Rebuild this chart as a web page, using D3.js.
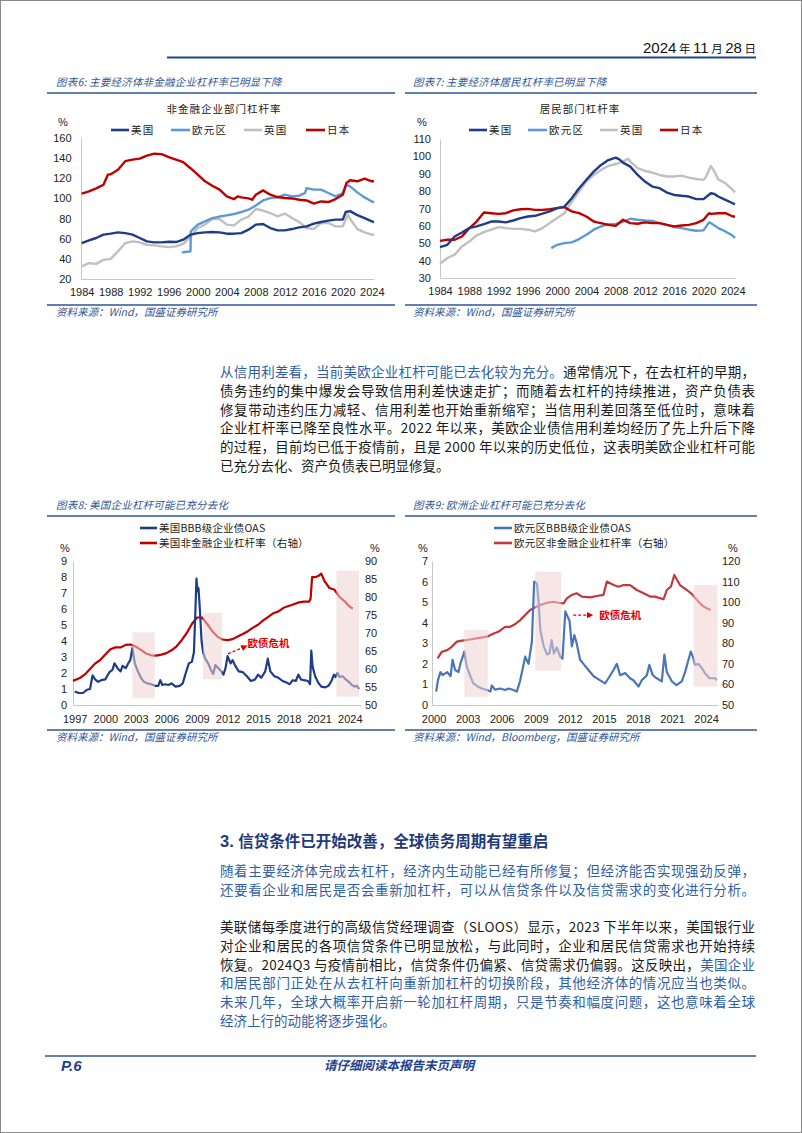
<!DOCTYPE html>
<html><head><meta charset="utf-8">
<script src="https://cdn.jsdelivr.net/npm/d3@7"></script>
<style>body{margin:0;background:#fff}svg{display:block}</style>
</head><body>
<svg id="page" width="802" height="1133"></svg>
<script>
// ---------------- DATA ----------------
// Chart 6: non-financial corporate leverage (%)
const c6US = [[1984,55.7],[1985,58.3],[1986,60.7],[1987,64],[1988,65],[1989,66.3],[1990,65.6],[1991,64],[1992,60.7],[1993,57.4],[1994,56.4],[1995,56.4],[1996,57],[1997,56.7],[1998,59],[1999,64],[2000,65.6],[2001,66.3],[2002,66.6],[2003,66.3],[2004,65],[2005,65],[2006,65.6],[2007,69],[2008,74],[2009,74.6],[2010,70.6],[2011,68.3],[2012,68.3],[2013,69.6],[2014,71.3],[2015,72.3],[2016,75],[2017,76.6],[2018,78],[2019,79],[2020,79],[2020.4,86.5],[2021,87.4],[2022,83.4],[2023,80.5],[2024,77.2],[2024.3,76.6]];
const c6EA = [[1997.8,46.4],[1998.5,47],[1999,47.4],[1999.05,67.3],[2000,74],[2001,77.2],[2002,80.5],[2003,82],[2004,83.2],[2005,84.5],[2006,86.5],[2007,88.8],[2008,93],[2009,98],[2010,100.4],[2011,101],[2012,103.7],[2013,102],[2014,102.7],[2014.8,105.4],[2015,110.3],[2016,108.7],[2017,108.7],[2018,105.4],[2019,102],[2020,105.4],[2020.5,113.6],[2021,112],[2022,106],[2023,101],[2024,97],[2024.3,96]];
const c6UK = [[1984,32.5],[1985,35.8],[1986,35],[1987,39],[1988,40],[1989,47.4],[1990,55.7],[1991,57.4],[1992,56.4],[1993,54],[1994,53.4],[1995,52.4],[1996,51.7],[1997,52.4],[1998,55],[1999,61.7],[2000,70.6],[2001,74],[2002,79.5],[2003,79.5],[2004,74],[2005,73.2],[2006,79],[2007,82],[2008,89.5],[2009,88],[2010,85.5],[2011,82.2],[2012,85],[2013,80.5],[2014,76.5],[2015,70.6],[2016,69.6],[2017,75.6],[2018,75.6],[2019,72.3],[2020,72.3],[2020.7,84],[2021,79.5],[2022,69.6],[2023,66.3],[2024,64],[2024.3,64]];
const c6JP = [[1984,104.7],[1985,107],[1986,110],[1987,113.6],[1987.6,123.6],[1988,124],[1989,128.5],[1990,137],[1991,138.5],[1992,139.5],[1993,142.5],[1994,144.4],[1995,144],[1996,141],[1997,138.5],[1998,136],[1999,130],[2000,123.6],[2001,117],[2002,112.6],[2003,108.7],[2004,102],[2005,99.4],[2005.5,102],[2006,101],[2007,100],[2007.5,98.7],[2008,103.7],[2009,108],[2010,103.7],[2011,101.4],[2012,100.4],[2013,100],[2014,98.7],[2015,98],[2016,94.8],[2017,97],[2018,96.4],[2019,99.4],[2020,103.7],[2020.5,115.3],[2021,118],[2022,117],[2023,119.6],[2024,117],[2024.3,117]];
const c6YTicks = [20,40,60,80,100,120,140,160];
const c6XTicks = [1984,1988,1992,1996,2000,2004,2008,2012,2016,2020,2024];

// Chart 7: household leverage (%)
const c7US = [[1984,47.8],[1985,49.1],[1986,53.9],[1987,56.2],[1988,58.7],[1989,59.7],[1990,61],[1991,62.5],[1992,62.5],[1993,62],[1994,63.1],[1995,64.5],[1996,65.4],[1997,65.8],[1998,67],[1999,68.3],[2000,70.2],[2001,71.1],[2002,75.9],[2003,81.7],[2004,86.5],[2005,91.2],[2006,95.1],[2007,97.9],[2008,99.3],[2008.5,98.3],[2009,96.4],[2010,94.1],[2011,89.3],[2012,85.5],[2013,82.6],[2014,81.7],[2015,79.2],[2016,77.8],[2017,77.3],[2018,76.9],[2019,75.4],[2020,75.4],[2021,78.8],[2021.5,78.4],[2022,76.9],[2023,75],[2024,73],[2024.3,72.5]];
const c7EA = [[1999.2,47.2],[2000,49.1],[2001,50.1],[2002,50.5],[2003,52.4],[2004,54.9],[2005,57.8],[2006,59.7],[2007,61],[2008,61],[2009,62.5],[2010,64.1],[2011,63.5],[2012,63.1],[2013,62.9],[2014,61.6],[2015,60.6],[2016,59.3],[2017,58.7],[2018,57.8],[2019,57.2],[2020,57.4],[2020.75,62],[2021,61.6],[2022,58.7],[2023,56.8],[2024,54.3],[2024.3,53]];
const c7UK = [[1984,38.2],[1985,41.5],[1986,43.4],[1987,48.2],[1988,51],[1989,54.5],[1990,56.4],[1991,57.8],[1992,59.3],[1993,58.7],[1994,58.3],[1995,58.3],[1996,57.8],[1997,56.8],[1998,58.7],[1999,61.6],[2000,64.5],[2001,67.3],[2002,74],[2003,79.8],[2004,85.5],[2005,89.3],[2006,92.2],[2007,94.5],[2008,95.6],[2009,97],[2009.7,98.7],[2010,97],[2011,93.2],[2012,91.6],[2013,90.7],[2014,89.3],[2015,88.4],[2016,88.4],[2017,88.9],[2018,87.8],[2019,87],[2020,86.5],[2020.3,88],[2021,94.5],[2021.5,91.2],[2022,86.8],[2023,84.5],[2024,80.7],[2024.3,79.2]];
const c7JP = [[1984,51.4],[1985,52],[1986,52],[1987,53.9],[1988,58.7],[1989,62.5],[1990,67.7],[1991,67.3],[1992,66.9],[1993,67.3],[1994,68.9],[1995,69.6],[1996,69.8],[1997,69.2],[1998,69.2],[1999,69.6],[2000,70.2],[2001,70.8],[2002,68.3],[2003,67.3],[2004,65.4],[2005,62.5],[2005.5,62],[2006,61.6],[2007,60.6],[2008,60],[2009,63.5],[2010,61.6],[2011,61.2],[2012,62],[2013,61.6],[2014,61.6],[2015,60.6],[2016,59.7],[2017,60.2],[2018,60.6],[2019,61.6],[2020,63.5],[2020.75,67.3],[2021,66.9],[2022,67.3],[2023,67.3],[2024,65.4],[2024.3,65.4]];
const c7YTicks = [30,40,50,60,70,80,90,100,110];
const c7XTicks = [1984,1988,1992,1996,2000,2004,2008,2012,2016,2020,2024];

// Chart 8: US BBB OAS (left) & US non-fin corporate leverage (right)
const c8OAS = [[1997.0,0.85],[1997.4,0.75],[1997.8,0.75],[1998.2,0.95],[1998.5,1.0],[1998.75,1.85],[1999.0,1.6],[1999.3,1.45],[1999.6,1.55],[2000.0,1.6],[2000.4,2.05],[2000.7,2.2],[2000.9,2.6],[2001.2,2.3],[2001.5,2.1],[2001.7,2.45],[2002.0,2.3],[2002.25,2.6],[2002.45,2.8],[2002.66,3.55],[2002.9,2.6],[2003.2,2.1],[2003.5,1.7],[2003.8,1.45],[2004.1,1.35],[2004.5,1.3],[2004.9,1.2],[2005.2,1.2],[2005.4,1.55],[2005.6,1.25],[2005.9,1.3],[2006.2,1.25],[2006.5,1.35],[2006.9,1.15],[2007.3,1.2],[2007.6,1.35],[2007.9,2.0],[2008.2,2.6],[2008.5,2.7],[2008.7,3.3],[2008.85,6.0],[2008.95,7.9],[2009.05,7.1],[2009.15,7.3],[2009.3,5.8],[2009.45,4.0],[2009.6,3.3],[2009.8,2.9],[2010.1,2.6],[2010.4,2.15],[2010.6,1.95],[2010.8,2.5],[2011.1,2.3],[2011.4,2.1],[2011.6,1.9],[2011.8,2.3],[2012.0,3.05],[2012.3,2.6],[2012.5,2.8],[2012.8,2.4],[2013.1,2.1],[2013.5,2.05],[2013.9,1.8],[2014.3,1.5],[2014.7,1.6],[2015.0,1.9],[2015.3,1.7],[2015.7,2.1],[2015.95,2.9],[2016.2,2.1],[2016.6,1.8],[2017.0,1.7],[2017.4,1.5],[2017.8,1.4],[2018.1,1.3],[2018.4,1.55],[2018.7,1.5],[2018.95,1.9],[2019.2,1.6],[2019.5,1.55],[2019.9,1.5],[2020.1,1.3],[2020.22,3.4],[2020.35,2.4],[2020.6,1.8],[2020.9,1.4],[2021.2,1.15],[2021.6,1.1],[2021.9,1.2],[2022.2,1.5],[2022.45,1.9],[2022.6,1.75],[2022.8,2.0],[2023.0,1.75],[2023.3,1.8],[2023.6,1.6],[2023.9,1.45],[2024.2,1.25],[2024.5,1.15],[2024.7,1.2],[2024.9,1.0]];
const c8Lev = [[1996.83,56.7],[1997.5,57.5],[1998,58.5],[1998.5,60],[1999,61.5],[1999.5,62.5],[2000,64],[2000.5,65.5],[2001,66],[2001.5,66],[2002,66.7],[2002.5,66.8],[2003,66.2],[2003.5,65.3],[2004,64.3],[2004.5,63.8],[2005,63.7],[2005.5,64],[2006,64.4],[2006.5,65.2],[2007,66.3],[2007.5,68],[2008,70],[2008.5,72.5],[2009,74.3],[2009.5,74.3],[2010,72.5],[2010.5,70.5],[2011,69],[2011.5,68.2],[2012,68],[2012.5,68.3],[2013,69],[2013.5,69.7],[2014,70.5],[2014.5,71.5],[2015,72.3],[2015.5,73.5],[2016,74.5],[2016.5,75.5],[2017,76],[2017.5,77],[2018,77.5],[2018.5,78],[2019,78.5],[2019.5,78.7],[2020,78.7],[2020.15,79.5],[2020.3,85.5],[2020.6,85.5],[2021,86],[2021.2,86.5],[2021.5,84.5],[2022,82.5],[2022.5,82],[2023,80],[2023.5,78.8],[2024,77.3],[2024.3,76.8]];
const c8Shade = [[2002.66,2004.85,0.42,4.54],[2009.6,2011.46,1.6,5.77],[2022.69,2024.9,0.52,8.4]];
const c8YTicks = [0,1,2,3,4,5,6,7,8,9];
const c8Y2Ticks = [50,55,60,65,70,75,80,85,90];
const c8XTicks = [1997,2000,2003,2006,2009,2012,2015,2018,2021,2024];

// Chart 9: Euro area BBB OAS (left) & EA non-fin corporate leverage (right)
const c9OAS = [[2000.23,0.65],[2000.38,1.2],[2000.6,1.6],[2000.8,1.45],[2001.2,1.6],[2001.5,1.4],[2001.67,2.2],[2001.9,1.7],[2002.2,1.6],[2002.35,2.0],[2002.6,2.4],[2002.7,2.6],[2002.93,1.85],[2003.2,1.45],[2003.5,1.05],[2003.87,0.9],[2004.25,0.8],[2004.7,0.73],[2005.0,0.65],[2005.13,0.95],[2005.4,0.75],[2005.87,0.8],[2006.3,0.73],[2006.6,0.8],[2007.04,0.73],[2007.33,0.65],[2007.63,1.2],[2008.07,2.35],[2008.36,2.0],[2008.66,3.1],[2008.86,6.0],[2009.1,5.9],[2009.24,5.1],[2009.4,3.65],[2009.7,2.85],[2010.0,2.45],[2010.2,2.5],[2010.4,3.15],[2010.6,2.5],[2010.85,2.8],[2011.15,2.35],[2011.35,2.25],[2011.6,4.55],[2011.8,4.3],[2011.97,4.1],[2012.18,2.85],[2012.4,3.4],[2012.6,3.0],[2012.9,2.2],[2013.2,2.0],[2013.64,1.7],[2014.1,1.4],[2014.67,1.2],[2015.1,1.05],[2015.4,1.3],[2015.85,1.7],[2016.14,2.0],[2016.43,1.45],[2016.87,1.55],[2017.3,1.3],[2017.6,1.2],[2018.05,0.9],[2018.34,1.2],[2018.78,1.45],[2019.0,1.95],[2019.3,1.45],[2019.66,1.3],[2020.1,1.15],[2020.33,2.45],[2020.54,1.6],[2020.98,1.15],[2021.4,0.97],[2021.86,1.15],[2022.15,1.6],[2022.45,2.2],[2022.65,2.6],[2022.83,2.35],[2023.03,1.95],[2023.33,2.0],[2023.62,1.8],[2023.9,1.55],[2024.3,1.3],[2024.8,1.3],[2024.94,1.2]];
const c9Lev = [[2000.35,72.7],[2000.73,75.9],[2001.2,76.7],[2001.6,78.3],[2002.05,80.8],[2002.5,81.3],[2002.93,81.6],[2003.8,82.4],[2004.7,83.2],[2005.3,84.8],[2005.7,85.6],[2006.3,88],[2006.75,88],[2007.2,89.4],[2007.63,91.3],[2008.07,93.7],[2008.5,96.2],[2008.95,97.5],[2009.4,98.6],[2010.0,99.7],[2010.56,100.2],[2011.0,99.7],[2011.45,99.4],[2011.74,101.8],[2012.18,103.5],[2012.6,104.3],[2013.06,102.7],[2013.8,102.3],[2014.38,103],[2014.96,103.5],[2015.26,110],[2015.85,108.3],[2016.3,107.5],[2016.73,108.3],[2017.3,108.3],[2017.9,105.9],[2018.5,104.3],[2019.07,102.7],[2019.5,102.7],[2020.25,101.4],[2020.54,105.9],[2020.9,107.5],[2021.2,113.2],[2021.7,108.3],[2022.3,105.9],[2022.74,104],[2023.2,101],[2023.6,98.6],[2024.06,97],[2024.4,96.2]];
const c9Shade = [[2002.7,2004.78,0.4,3.65],[2008.95,2011.24,1.67,6.48],[2022.9,2025.0,0.89,5.83]];
const c9YTicks = [0,1,2,3,4,5,6,7];
const c9Y2Ticks = [50,60,70,80,90,100,110,120];
const c9XTicks = [2000,2003,2006,2009,2012,2015,2018,2021,2024];

const legend67 = ["美国","欧元区","英国","日本"];

// ---------------- DRAW ----------------
const CJK = "'Noto Sans CJK SC','Noto Sans CJK JP',sans-serif";
const LAT = "'Liberation Sans',Arial,sans-serif";
const TBLUE = "#2f5597";
const COL = {us:"#1f3c88", ea:"#5b9bd5", uk:"#c0c0c0", jp:"#c00000"};
const svg = d3.select("#page");

svg.append("rect").attr("x",0.5).attr("y",0.5).attr("width",801).attr("height",1132)
  .attr("fill","#fff").attr("stroke","#8a8a8a").attr("stroke-width",1);

// header
const hd = svg.append("text").attr("x",756).attr("y",53).attr("text-anchor","end").attr("fill","#111");
[["2024",1],[" 年 ",0],["11",1],[" 月 ",0],["28",1],[" 日",0]].forEach(([t,n])=>{
  hd.append("tspan").text(t)
    .attr("font-family", n? "'Liberation Sans Narrow','Liberation Sans',sans-serif" : CJK)
    .attr("font-size", n? 15 : 11.5);
});
svg.append("line").attr("x1",167).attr("x2",756).attr("y1",57.5).attr("y2",57.5)
  .attr("stroke","#23468a").attr("stroke-width",2);

function figTitle(x, y, x1, x2, text){
  svg.append("text").attr("x",x).attr("y",y).text(text)
    .attr("font-family",CJK).attr("font-size",10.5).attr("font-style","italic")
    .attr("letter-spacing",0.2).attr("fill",TBLUE);
  svg.append("line").attr("x1",x1).attr("x2",x2).attr("y1",y+7).attr("y2",y+7)
    .attr("stroke",TBLUE).attr("stroke-width",1.6);
}
function figSource(x, y, x1, x2, text){
  svg.append("line").attr("x1",x1).attr("x2",x2).attr("y1",y-11).attr("y2",y-11)
    .attr("stroke",TBLUE).attr("stroke-width",1.6);
  svg.append("text").attr("x",x).attr("y",y).text(text)
    .attr("font-family",CJK).attr("font-size",10.5).attr("font-style","italic")
    .attr("fill",TBLUE);
}

function drawChart(o){
  const g = svg.append("g");
  const x = d3.scaleLinear().domain(o.xDomain).range([o.left,o.right]);
  const y = d3.scaleLinear().domain(o.yDomain).range([o.bottom,o.top]);
  const y2 = o.y2Domain ? d3.scaleLinear().domain(o.y2Domain).range([o.bottom,o.top]) : null;
  const styleAx = sel => {
    sel.selectAll("text").attr("font-family",LAT).attr("font-size",o.fs||11).attr("fill","#222");
    sel.select(".domain").attr("stroke","#c8c8c8").attr("stroke-width",1);
    sel.selectAll(".tick line").remove();
  };
  g.append("g").attr("transform",`translate(${o.left},0)`)
    .call(d3.axisLeft(y).tickValues(o.yTicks).tickSize(0).tickSizeOuter(0).tickPadding(o.yPad).tickFormat(d3.format("d")))
    .call(styleAx);
  g.append("g").attr("transform",`translate(0,${o.bottom})`)
    .call(d3.axisBottom(x).tickValues(o.xTicks).tickSize(0).tickSizeOuter(0).tickPadding(o.xPad).tickFormat(d3.format("d")))
    .call(styleAx);
  if (y2){
    const a = g.append("g").attr("transform",`translate(${o.right},0)`)
      .call(d3.axisRight(y2).tickValues(o.y2Ticks).tickSize(0).tickSizeOuter(0).tickPadding(o.y2Pad).tickFormat(d3.format("d")))
      .call(styleAx);
    a.select(".domain").attr("stroke","none");
  }
  o.series.forEach(s=>{
    const sc = s.right ? y2 : y;
    g.append("path").datum(s.data)
      .attr("d", d3.line().x(d=>x(d[0])).y(d=>sc(d[1])))
      .attr("fill","none").attr("stroke",s.color).attr("stroke-width",s.w||2.4)
      .attr("stroke-linejoin","round").attr("stroke-linecap","butt");
  });
  (o.shade||[]).forEach(r=>{
    g.append("rect").attr("x",x(r[0])).attr("width",x(r[1])-x(r[0]))
      .attr("y",y(r[3])).attr("height",y(r[2])-y(r[3]))
      .attr("fill","#efd2d2").attr("opacity",0.55);
  });
  return {x,y,y2,g};
}

function lineLegend(items, y, ls){
  items.forEach(it=>{
    svg.append("line").attr("x1",it.x1).attr("x2",it.x2).attr("y1",y).attr("y2",y)
      .attr("stroke",it.color).attr("stroke-width",2.6);
    svg.append("text").attr("x",it.x2+2).attr("y",y+3.8).text(it.label)
      .attr("font-family",CJK).attr("font-size",10.5).attr("letter-spacing",ls==null?1.2:ls).attr("fill","#222");
  });
}

// ---------- Chart 6 ----------
figTitle(56, 86, 47, 395, "图表6: 主要经济体非金融企业杠杆率已明显下降");
svg.append("text").attr("x",224).attr("y",113).attr("text-anchor","middle").text("非金融企业部门杠杆率")
  .attr("font-family",CJK).attr("font-size",10.5).attr("letter-spacing",1).attr("fill","#222");
svg.append("text").attr("x",63).attr("y",126).attr("text-anchor","middle").text("%")
  .attr("font-family",LAT).attr("font-size",11).attr("fill","#222");
lineLegend([
  {x1:111,x2:129,color:COL.us,label:legend67[0]},
  {x1:171,x2:190,color:COL.ea,label:legend67[1]},
  {x1:244,x2:262,color:COL.uk,label:legend67[2]},
  {x1:306,x2:325,color:COL.jp,label:legend67[3]}
],130);
drawChart({left:81,right:374,top:138,bottom:279,xDomain:[1983.9,2024.3],yDomain:[20,160],
  yTicks:c6YTicks,xTicks:c6XTicks,yPad:9.5,xPad:9,fs:11,
  series:[{data:c6UK,color:COL.uk},{data:c6EA,color:COL.ea},{data:c6US,color:COL.us},{data:c6JP,color:COL.jp}]});
figSource(56, 316, 47, 395, "资料来源：Wind，国盛证券研究所");

// ---------- Chart 7 ----------
figTitle(413, 86, 405, 757, "图表7: 主要经济体居民杠杆率已明显下降");
svg.append("text").attr("x",580).attr("y",113).attr("text-anchor","middle").text("居民部门杠杆率")
  .attr("font-family",CJK).attr("font-size",10.5).attr("letter-spacing",1).attr("fill","#222");
svg.append("text").attr("x",422).attr("y",126).attr("text-anchor","middle").text("%")
  .attr("font-family",LAT).attr("font-size",11).attr("fill","#222");
lineLegend([
  {x1:469,x2:487,color:COL.us,label:legend67[0]},
  {x1:528,x2:547,color:COL.ea,label:legend67[1]},
  {x1:600,x2:618,color:COL.uk,label:legend67[2]},
  {x1:660,x2:678,color:COL.jp,label:legend67[3]}
],130);
drawChart({left:440,right:735,top:139,bottom:278,xDomain:[1984,2024.3],yDomain:[30,110],
  yTicks:c7YTicks,xTicks:c7XTicks,yPad:9,xPad:9.5,fs:11,
  series:[{data:c7UK,color:COL.uk},{data:c7EA,color:COL.ea},{data:c7JP,color:COL.jp},{data:c7US,color:COL.us}]});
figSource(413, 316, 405, 757, "资料来源：Wind，国盛证券研究所");

// ---------- Body paragraph 1 ----------
const BLK="#1a1a1a", BBLUE="#2f5fa7";
function bodyLine(y, parts, justify, fs){
  const t = svg.append("text").attr("x",220).attr("y",y).attr("font-family",CJK).attr("font-size",fs||13.5);
  parts.forEach(p=>t.append("tspan").text(p[0]).attr("fill",p[1]));
  if (justify){
    const w = t.node().getComputedTextLength();
    const n = parts.map(p=>p[0]).join("").length;
    const ls = (535 - w)/(n-1);
    t.attr("letter-spacing", ls);
  }
  return t;
}
const p1 = [
  [["从信用利差看，当前美欧企业杠杆可能已去化较为充分。",BBLUE],["通常情况下，在去杠杆的早期，",BLK]],
  [["债务违约的集中爆发会导致信用利差快速走扩；而随着去杠杆的持续推进，资产负债表",BLK]],
  [["修复带动违约压力减轻、信用利差也开始重新缩窄；当信用利差回落至低位时，意味着",BLK]],
  [["企业杠杆率已降至良性水平。2022 年以来，美欧企业债信用利差均经历了先上升后下降",BLK]],
  [["的过程，目前均已低于疫情前，且是 2000 年以来的历史低位，这表明美欧企业杠杆可能",BLK]],
  [["已充分去化、资产负债表已明显修复。",BLK]]
];
p1.forEach((l,i)=>bodyLine(377+i*18.8, l, i<p1.length-1));

// ---------- Chart 8 ----------
figTitle(56, 509, 47, 395, "图表8: 美国企业杠杆可能已充分去化");
lineLegend([{x1:140,x2:157,color:"#1f3c88",label:"美国BBB级企业债OAS"}],528,0.2);
lineLegend([{x1:140,x2:157,color:"#c00000",label:"美国非金融企业杠杆率（右轴）"}],543,0.2);
svg.append("text").attr("x",65).attr("y",552).attr("text-anchor","middle").text("%").attr("font-family",LAT).attr("font-size",11).attr("fill","#222");
svg.append("text").attr("x",375).attr("y",552).attr("text-anchor","middle").text("%").attr("font-family",LAT).attr("font-size",11).attr("fill","#222");
const ch8 = drawChart({left:73,right:361,top:561,bottom:705,xDomain:[1996.83,2025.1],yDomain:[0,9],y2Domain:[50,90],
  yTicks:c8YTicks,y2Ticks:c8Y2Ticks,xTicks:c8XTicks,yPad:6,y2Pad:4,xPad:10,fs:11,
  series:[{data:c8Lev,color:"#c00000",right:true,w:2.2},{data:c8OAS,color:"#1f3c88",w:2.2}],
  shade:c8Shade});
figSource(56, 741, 47, 395, "资料来源：Wind，国盛证券研究所");

// ---------- Chart 9 ----------
figTitle(413, 509, 405, 757, "图表9: 欧洲企业杠杆可能已充分去化");
lineLegend([{x1:494,x2:512,color:"#4a76b8",label:"欧元区BBB级企业债OAS"}],528,0.2);
lineLegend([{x1:494,x2:512,color:"#c0393b",label:"欧元区非金融企业杠杆率（右轴）"}],543,0.2);
svg.append("text").attr("x",423).attr("y",552).attr("text-anchor","middle").text("%").attr("font-family",LAT).attr("font-size",11).attr("fill","#222");
svg.append("text").attr("x",733).attr("y",552).attr("text-anchor","middle").text("%").attr("font-family",LAT).attr("font-size",11).attr("fill","#222");
const ch9 = drawChart({left:432,right:718,top:561,bottom:705,xDomain:[1999.86,2025.05],yDomain:[0,7],y2Domain:[50,120],
  yTicks:c9YTicks,y2Ticks:c9Y2Ticks,xTicks:c9XTicks,yPad:4,y2Pad:4,xPad:10,fs:11,
  series:[{data:c9Lev,color:"#c0393b",right:true,w:2.2},{data:c9OAS,color:"#4a76b8",w:2.2}],
  shade:c9Shade});
figSource(413, 741, 405, 757, "资料来源：Wind，Bloomberg，国盛证券研究所");

// annotations
const defs = svg.append("defs");
defs.append("marker").attr("id","arr").attr("viewBox","0 0 10 10").attr("refX",8).attr("refY",5)
  .attr("markerWidth",5).attr("markerHeight",5).attr("orient","auto")
  .append("path").attr("d","M0,0L10,5L0,10z").attr("fill","#e00000");
function annot(ch, ax1, ay1, ax2, ay2, tx, ty){
  ch.g.append("line").attr("x1",ch.x(ax1)).attr("y1",ch.y(ay1)).attr("x2",ch.x(ax2)).attr("y2",ch.y(ay2))
    .attr("stroke","#e00000").attr("stroke-width",1.3).attr("stroke-dasharray","3,2").attr("marker-end","url(#arr)");
  ch.g.append("text").attr("x",ch.x(tx)).attr("y",ch.y(ty)).text("欧债危机")
    .attr("font-family",CJK).attr("font-size",10.5).attr("font-weight","bold").attr("fill","#e00000");
}
annot(ch8, 2012.05, 3.2, 2013.85, 3.68, 2013.95, 3.62);
annot(ch9, 2012.3, 4.37, 2013.95, 4.37, 2014.6, 4.18);

// ---------- Section 3 ----------
const sh = svg.append("text").attr("x",220).attr("y",847).attr("fill","#1f3a7a").attr("font-weight","bold");
sh.append("tspan").text("3. ").attr("font-family",LAT).attr("font-size",16.5);
sh.append("tspan").text("信贷条件已开始改善，全球债务周期有望重启").attr("font-family",CJK).attr("font-size",15.5);

const p2 = [
  [["随着主要经济体完成去杠杆，经济内生动能已经有所修复；但经济能否实现强劲反弹，",BBLUE]],
  [["还要看企业和居民是否会重新加杠杆，可以从信贷条件以及信贷需求的变化进行分析。",BBLUE]]
];
p2.forEach((l,i)=>bodyLine(876+i*18.6, l, true));

const p3 = [
  [["美联储每季度进行的高级信贷经理调查（SLOOS）显示，2023 下半年以来，美国银行业",BLK]],
  [["对企业和居民的各项信贷条件已明显放松，与此同时，企业和居民信贷需求也开始持续",BLK]],
  [["恢复。2024Q3 与疫情前相比，信贷条件仍偏紧、信贷需求仍偏弱。这反映出，",BLK],["美国企业",BBLUE]],
  [["和居民部门正处在从去杠杆向重新加杠杆的切换阶段，其他经济体的情况应当也类似。",BBLUE]],
  [["未来几年，全球大概率开启新一轮加杠杆周期，只是节奏和幅度问题，这也意味着全球",BBLUE]],
  [["经济上行的动能将逐步强化。",BBLUE]]
];
p3.forEach((l,i)=>bodyLine(932+i*18.8, l, i<p3.length-1));

// ---------- Footer ----------
svg.append("line").attr("x1",45).attr("x2",756).attr("y1",1056).attr("y2",1056)
  .attr("stroke","#2f5597").attr("stroke-width",1.5);
svg.append("text").attr("x",61).attr("y",1071).text("P.6")
  .attr("font-family",LAT).attr("font-size",15).attr("font-weight","bold").attr("font-style","italic").attr("fill","#1f3f8f");
svg.append("text").attr("x",399).attr("y",1070).attr("text-anchor","middle").text("请仔细阅读本报告末页声明")
  .attr("font-family",CJK).attr("font-size",12.5).attr("font-weight","bold").attr("font-style","italic").attr("fill","#1f3f8f");
</script>
</body></html>
